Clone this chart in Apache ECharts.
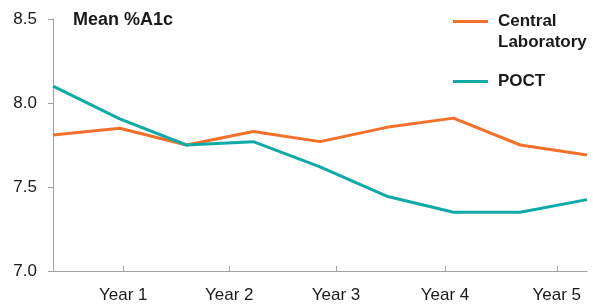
<!DOCTYPE html>
<html>
<head>
<meta charset="utf-8">
<title>Mean %A1c</title>
<script src="https://cdn.jsdelivr.net/npm/echarts@6/dist/echarts.min.js"></script>
<style>
  html, body { margin: 0; padding: 0; background: #fff; }
  #chart { width: 593px; height: 304px; }
</style>
</head>
<body>
<div id="chart"></div>
<script>
// 9 measurements, x = measurement index
var xIndex = [0, 1, 2, 3, 4, 5, 6, 7, 8];
var centralLab = [7.81, 7.85, 7.75, 7.83, 7.77, 7.855, 7.91, 7.75, 7.69];
var poct = [8.10, 7.905, 7.75, 7.77, 7.62, 7.445, 7.35, 7.35, 7.425];
var yearLabels = ['Year 1', 'Year 2', 'Year 3', 'Year 4', 'Year 5'];
var yearTicks = [1.053, 2.641, 4.240, 5.873, 7.547];

var orange = '#f3702a';
var teal = '#0faaa8';
var font = 'Liberation Sans';

function pairs(vals) {
  return xIndex.map(function (x, i) { return [x, vals[i]]; });
}

var legendText = { fontFamily: font, fontSize: 17, fontWeight: 'bold', color: '#1a1a1a', lineHeight: 21, padding: [0, 0, 0, 5] };

var chart = echarts.init(document.getElementById('chart'));
var option = {
  animation: false,
  textStyle: { fontFamily: font },
  title: {
    text: 'Mean %A1c',
    left: 68,
    top: 6,
    textStyle: { fontFamily: font, fontSize: 18, fontWeight: 'bold', color: '#1a1a1a' }
  },
  legend: [{
    data: ['Central Laboratory'],
    // blank first line keeps the icon level with "Central"
    formatter: function () { return '\u00a0\nCentral\nLaboratory'; },
    left: 453,
    top: -10,
    padding: 0,
    itemWidth: 35,
    itemHeight: 3,
    icon: 'rect',
    textStyle: legendText
  }, {
    data: ['POCT'],
    left: 453,
    top: 71,
    padding: 0,
    itemWidth: 35,
    itemHeight: 3,
    icon: 'rect',
    textStyle: legendText
  }],
  grid: { left: 53, right: 6, top: 19, bottom: 33 },
  xAxis: {
    type: 'value',
    min: 0,
    max: 8,
    axisLine: { show: true, lineStyle: { color: '#a0a0a0', width: 1 } },
    axisTick: { show: true, inside: true, length: 5, customValues: yearTicks, lineStyle: { color: '#a0a0a0' } },
    axisLabel: {
      customValues: yearTicks,
      margin: 16,
      fontSize: 17,
      color: '#1a1a1a',
      formatter: function (v) {
        var k = yearTicks.indexOf(v);
        return k >= 0 ? yearLabels[k] : '';
      }
    },
    splitLine: { show: false }
  },
  yAxis: {
    type: 'value',
    min: 7,
    max: 8.5,
    interval: 0.5,
    axisLine: { show: true, lineStyle: { color: '#a0a0a0', width: 1 } },
    axisTick: { show: true, length: 5, lineStyle: { color: '#a0a0a0' } },
    axisLabel: {
      margin: 16,
      fontSize: 17,
      color: '#1a1a1a',
      formatter: function (v) { return v.toFixed(1); }
    },
    splitLine: { show: false }
  },
  series: [{
    name: 'Central Laboratory',
    type: 'line',
    data: pairs(centralLab),
    showSymbol: false,
    symbol: 'none',
    lineStyle: { color: orange, width: 3 },
    itemStyle: { color: orange }
  }, {
    name: 'POCT',
    type: 'line',
    data: pairs(poct),
    showSymbol: false,
    symbol: 'none',
    lineStyle: { color: teal, width: 3 },
    itemStyle: { color: teal }
  }]
};
chart.setOption(option);
</script>
</body>
</html>
